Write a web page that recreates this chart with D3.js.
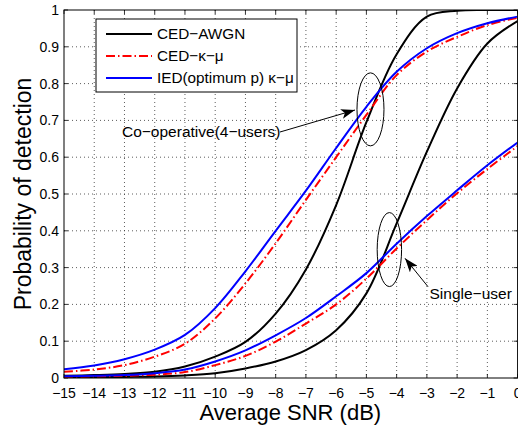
<!DOCTYPE html>
<html>
<head>
<meta charset="utf-8">
<script src="https://cdn.jsdelivr.net/npm/d3@7"></script>
<style>
  body { margin: 0; background: #fff; }
  svg { display: block; font-family: "Liberation Sans", Arial, sans-serif; }
  .grid line { stroke: #333; stroke-width: 0.8; stroke-dasharray: 1,3; }
  .tick-label { font-size: 14px; fill: #000; }
  .note { font-size: 15.5px; fill: #000; }
</style>
</head>
<body>
<div id="chart"></div>
<script>
// SNR values (dB)
const snr = [-15, -14, -13, -12, -11, -10, -9, -8, -7, -6, -5, -4, -3, -2, -1, 0];

// co-operative (4 users)
const coopAwgn = [0.006, 0.008, 0.011, 0.017, 0.031, 0.058, 0.098, 0.175, 0.295, 0.47, 0.695, 0.88, 0.982, 0.998, 1.0, 1.0];
const coopKm   = [0.017, 0.023, 0.035, 0.058, 0.093, 0.162, 0.257, 0.366, 0.484, 0.600, 0.715, 0.823, 0.887, 0.927, 0.959, 0.979];
const coopIed  = [0.024, 0.034, 0.051, 0.077, 0.117, 0.19, 0.29, 0.40, 0.509, 0.625, 0.737, 0.832, 0.896, 0.937, 0.964, 0.982];

// single user
const singleAwgn = [0.001, 0.002, 0.003, 0.004, 0.007, 0.013, 0.026, 0.045, 0.076, 0.13, 0.23, 0.42, 0.615, 0.787, 0.909, 0.97];
const singleKm   = [0.003, 0.004, 0.006, 0.009, 0.016, 0.035, 0.06, 0.099, 0.148, 0.2, 0.27, 0.352, 0.429, 0.502, 0.568, 0.63];
const singleIed  = [0.005, 0.006, 0.008, 0.013, 0.023, 0.045, 0.075, 0.116, 0.163, 0.222, 0.285, 0.365, 0.44, 0.51, 0.578, 0.64];

const xTicks = d3.range(-15, 1);
const yTicks = [0, 0.1, 0.2, 0.3, 0.4, 0.5, 0.6, 0.7, 0.8, 0.9, 1];
const legendLabels = ['CED\u2212AWGN', 'CED\u2212\u03ba\u2212\u03bc', 'IED(optimum p) \u03ba\u2212\u03bc'];

class DetectionChart {
    constructor(_config) {
        this.config = {
            parentElement: _config.parentElement,
            containerWidth: _config.containerWidth || 518,
            containerHeight: _config.containerHeight || 429,
            margin: _config.margin || { top: 10, right: 0, bottom: 51, left: 64 }
        };
        this.initVis();
    }

    initVis() {
        let vis = this;

        // plot box runs a hair past the right edge, like the original crop
        vis.width = 453.6;
        vis.height = vis.config.containerHeight - vis.config.margin.top - vis.config.margin.bottom;

        vis.svg = d3.select(vis.config.parentElement).append('svg')
            .attr('width', vis.config.containerWidth)
            .attr('height', vis.config.containerHeight);

        const defs = vis.svg.append('defs');
        defs.append('marker')
            .attr('id', 'head')
            .attr('viewBox', '0 0 14 10')
            .attr('refX', 14).attr('refY', 5)
            .attr('markerWidth', 14).attr('markerHeight', 10)
            .attr('markerUnits', 'userSpaceOnUse')
            .attr('orient', 'auto')
          .append('path')
            .attr('d', 'M0,0 L14,5 L0,10 L3.5,5 Z')
            .attr('fill', '#000');
        defs.append('clipPath').attr('id', 'plot-clip')
          .append('rect')
            .attr('width', vis.width).attr('height', vis.height);

        vis.xScale = d3.scaleLinear().domain([-15, 0]).range([0, vis.width]);
        vis.yScale = d3.scaleLinear().domain([0, 1]).range([vis.height, 0]);

        vis.chart = vis.svg.append('g')
            .attr('transform', `translate(${vis.config.margin.left},${vis.config.margin.top})`);
    }

    renderVis() {
        let vis = this;
        const x = vis.xScale, y = vis.yScale;

        // dotted grid
        const grid = vis.chart.append('g').attr('class', 'grid');
        grid.selectAll('.gx').data(xTicks.slice(1, -1)).join('line')
            .attr('x1', d => x(d)).attr('x2', d => x(d))
            .attr('y1', 0).attr('y2', vis.height);
        grid.selectAll('.gy').data(yTicks.slice(1, -1)).join('line')
            .attr('class', 'gy')
            .attr('x1', 0).attr('x2', vis.width)
            .attr('y1', d => y(d)).attr('y2', d => y(d));

        // inward ticks, matlab style
        const ticks = vis.chart.append('g').attr('stroke', '#000').attr('stroke-width', 0.8);
        xTicks.forEach(d => {
            ticks.append('line').attr('x1', x(d)).attr('x2', x(d)).attr('y1', vis.height).attr('y2', vis.height - 4);
            ticks.append('line').attr('x1', x(d)).attr('x2', x(d)).attr('y1', 0).attr('y2', 4);
        });
        yTicks.forEach(d => {
            ticks.append('line').attr('x1', 0).attr('x2', 4).attr('y1', y(d)).attr('y2', y(d));
            ticks.append('line').attr('x1', vis.width).attr('x2', vis.width - 4).attr('y1', y(d)).attr('y2', y(d));
        });

        // tick labels
        vis.chart.selectAll('.xl').data(xTicks).join('text')
            .attr('class', 'tick-label')
            .attr('x', d => x(d)).attr('y', vis.height + 19.5)
            .attr('text-anchor', 'middle')
            .text(d => d < 0 ? '\u2212' + Math.abs(d) : d);
        vis.chart.selectAll('.yl').data(yTicks).join('text')
            .attr('class', 'tick-label')
            .attr('x', -5).attr('y', d => y(d) + 5)
            .attr('text-anchor', 'end')
            .text(d => d);

        // curves
        const line = d3.line()
            .x((d, i) => x(snr[i]))
            .y(d => y(d))
            .curve(d3.curveCatmullRom.alpha(0.5));

        const series = [
            { values: coopAwgn, color: '#000', dash: null },
            { values: singleAwgn, color: '#000', dash: null },
            { values: coopKm, color: '#ff0000', dash: '9,3,1.5,3' },
            { values: singleKm, color: '#ff0000', dash: '9,3,1.5,3' },
            { values: coopIed, color: '#0000ff', dash: null },
            { values: singleIed, color: '#0000ff', dash: null }
        ];
        vis.chart.append('g').attr('clip-path', 'url(#plot-clip)')
          .selectAll('.curve').data(series).join('path')
            .attr('class', 'curve')
            .attr('d', d => line(d.values))
            .attr('fill', 'none')
            .attr('stroke', d => d.color)
            .attr('stroke-width', 2)
            .attr('stroke-dasharray', d => d.dash);

        // plot box
        vis.chart.append('rect')
            .attr('width', vis.width).attr('height', vis.height)
            .attr('fill', 'none').attr('stroke', '#000').attr('stroke-width', 1);

        // legend
        const legend = vis.chart.append('g').attr('transform', 'translate(32,9)');
        legend.append('rect')
            .attr('width', 201).attr('height', 73)
            .attr('fill', '#fff').attr('stroke', '#000').attr('stroke-width', 1);
        const legendStyle = [series[0], series[2], series[4]];
        legendLabels.forEach((lab, i) => {
            const ly = 15 + i * 22;
            legend.append('line')
                .attr('x1', 10).attr('x2', 56).attr('y1', ly).attr('y2', ly)
                .attr('stroke', legendStyle[i].color).attr('stroke-width', 2)
                .attr('stroke-dasharray', legendStyle[i].dash);
            legend.append('text')
                .attr('x', 61).attr('y', ly + 5)
                .style('font-size', '15.3px')
                .text(lab);
        });

        // annotations
        vis.chart.append('ellipse')
            .attr('cx', x(-4.865)).attr('cy', y(0.73))
            .attr('rx', 13.5).attr('ry', 36.5)
            .attr('fill', 'none').attr('stroke', '#000').attr('stroke-width', 1);
        vis.chart.append('ellipse')
            .attr('cx', x(-4.24)).attr('cy', y(0.349))
            .attr('rx', 12.2).attr('ry', 37)
            .attr('fill', 'none').attr('stroke', '#000').attr('stroke-width', 1);

        vis.chart.append('text').attr('class', 'note')
            .attr('x', 58).attr('y', 126.5)
            .text('Co\u2212operative(4\u2212users)');
        vis.chart.append('line')
            .attr('x1', 216).attr('y1', 122).attr('x2', 291).attr('y2', 100)
            .attr('stroke', '#000').attr('stroke-width', 1)
            .attr('marker-end', 'url(#head)');

        vis.chart.append('text').attr('class', 'note')
            .attr('x', 365.5).attr('y', 289)
            .text('Single\u2212user');
        vis.chart.append('line')
            .attr('x1', 364).attr('y1', 276.7).attr('x2', 341).attr('y2', 248.3)
            .attr('stroke', '#000').attr('stroke-width', 1)
            .attr('marker-end', 'url(#head)');

        // axis titles
        vis.chart.append('text')
            .attr('x', vis.width / 2 - 0.5).attr('y', vis.height + 42)
            .attr('text-anchor', 'middle')
            .style('font-size', '22px')
            .text('Average SNR (dB)');
        vis.chart.append('text')
            .attr('transform', `translate(-33,${vis.height / 2}) rotate(-90)`)
            .attr('text-anchor', 'middle')
            .style('font-size', '23px')
            .text('Probability  of detection');
    }
}

const chart = new DetectionChart({ parentElement: '#chart' });
chart.renderVis();
</script>
</body>
</html>
